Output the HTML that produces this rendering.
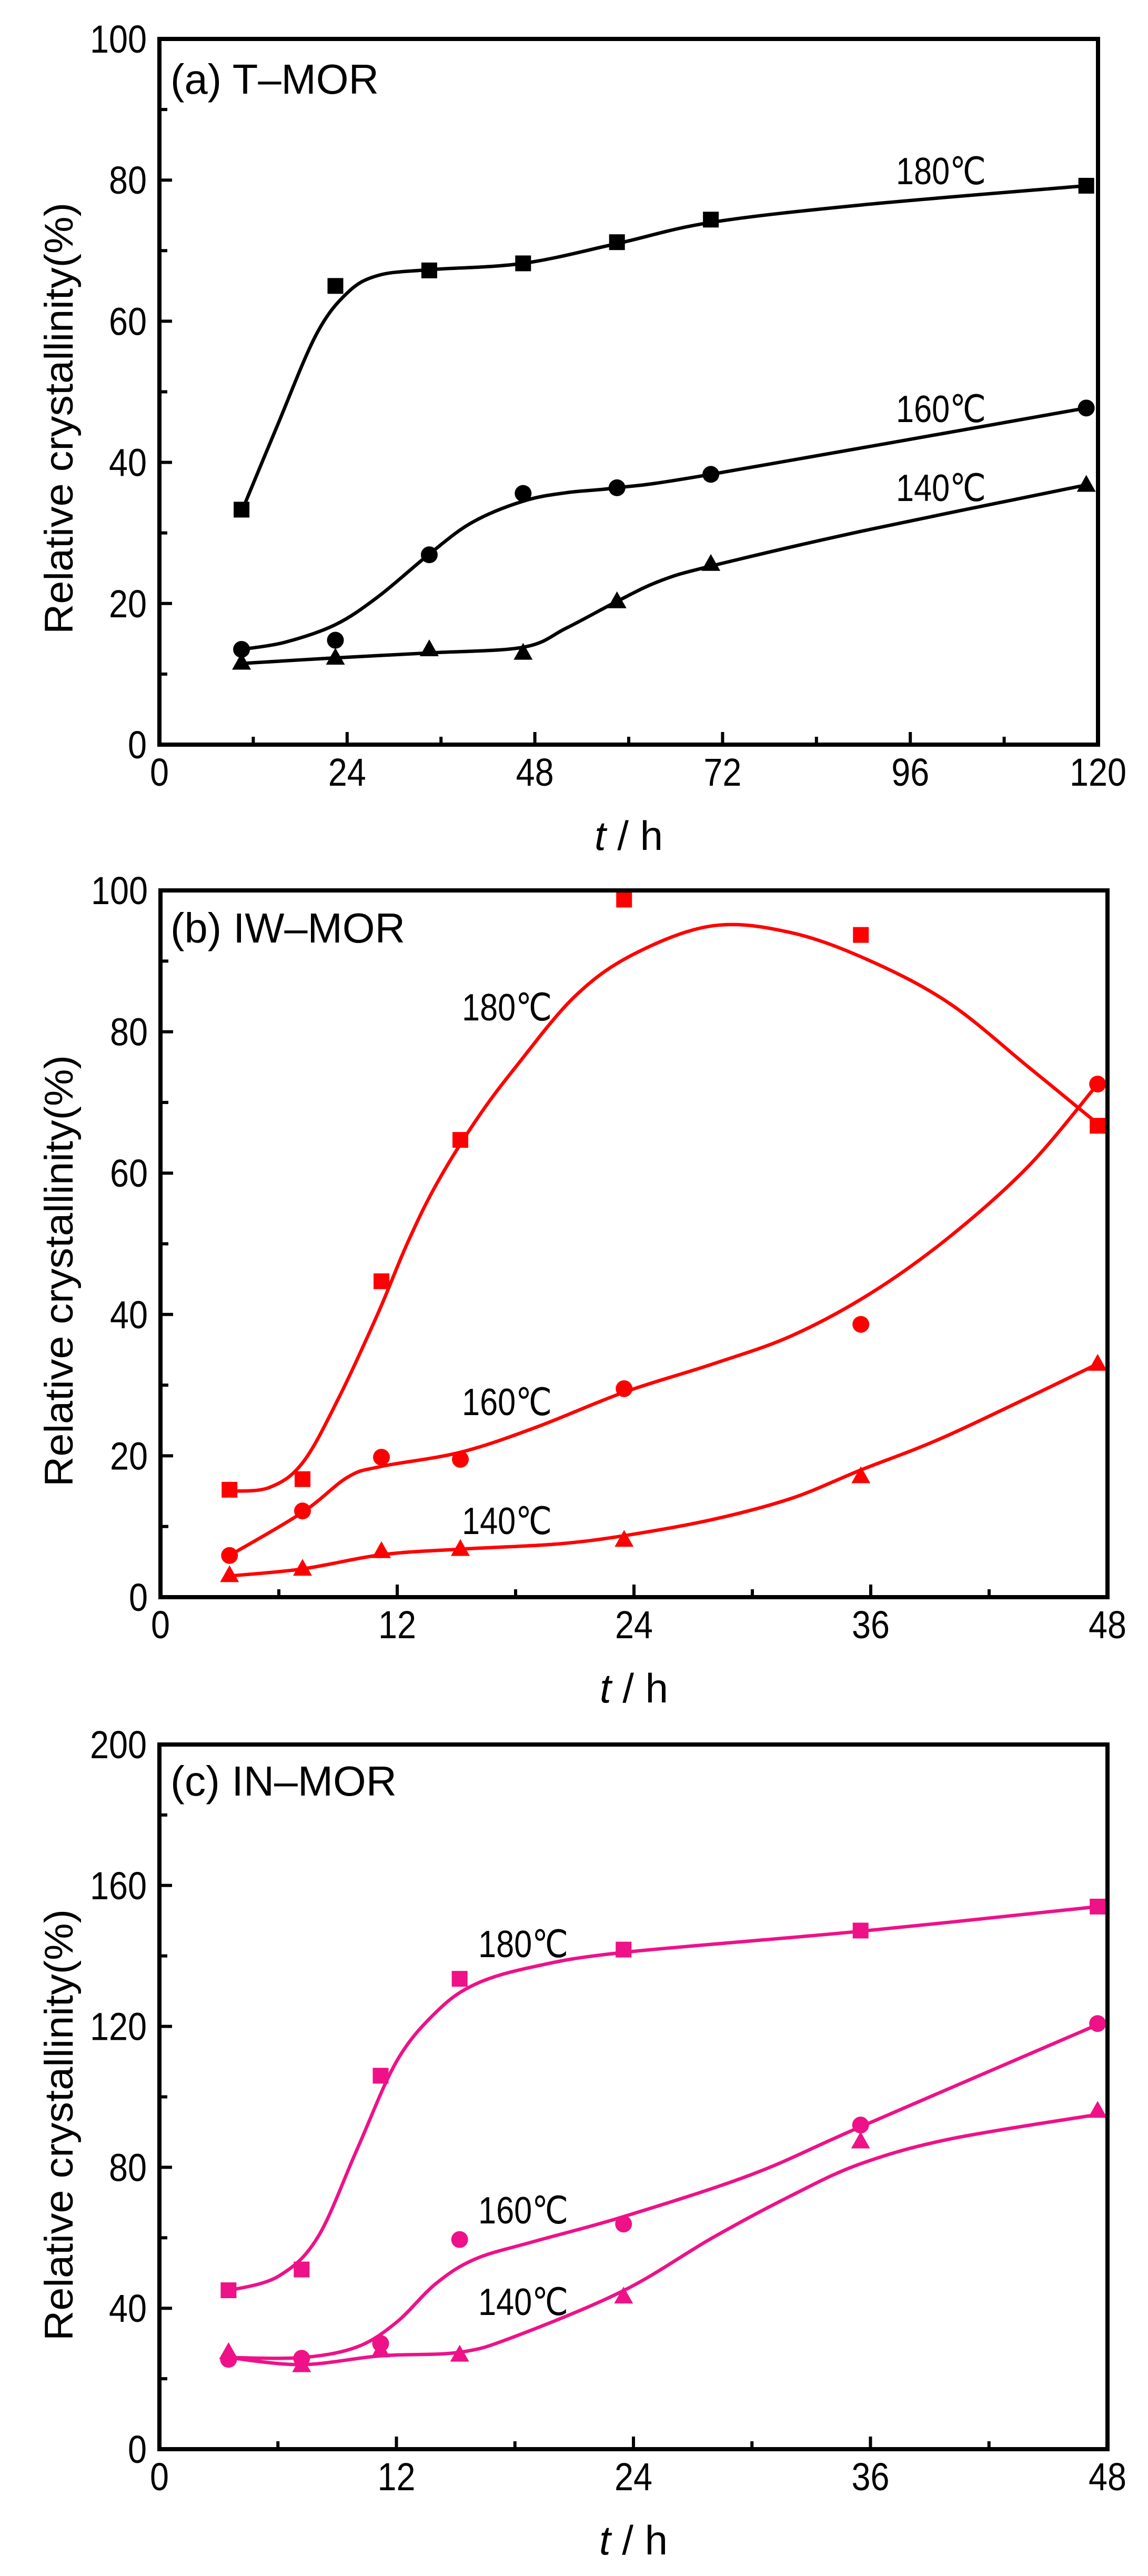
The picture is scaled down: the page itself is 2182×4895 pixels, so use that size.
<!DOCTYPE html>
<html><head><meta charset="utf-8"><style>
html,body{margin:0;padding:0;background:#fff}
svg{display:block}
text{font-family:"Liberation Sans",sans-serif}
</style></head><body>
<svg id="s" width="2182" height="4895" viewBox="0 0 2182 4895" xmlns="http://www.w3.org/2000/svg"></svg>
<script>
const S=document.getElementById('s');let out='';
function cr(pts){let d='M'+pts[0][0].toFixed(1)+','+pts[0][1].toFixed(1);
for(let i=0;i<pts.length-1;i++){const p0=pts[i-1]||pts[i],p1=pts[i],p2=pts[i+1],p3=pts[i+2]||p2;
const c1=[p1[0]+(p2[0]-p0[0])/6,p1[1]+(p2[1]-p0[1])/6],c2=[p2[0]-(p3[0]-p1[0])/6,p2[1]-(p3[1]-p1[1])/6];
d+=` C${c1[0].toFixed(1)},${c1[1].toFixed(1)} ${c2[0].toFixed(1)},${c2[1].toFixed(1)} ${p2[0].toFixed(1)},${p2[1].toFixed(1)}`;}return d;}
function panel(P){
const X=v=>P.x0+(P.x1-P.x0)*v/P.xmax, Y=v=>P.y0-(P.y0-P.y1)*v/P.ymax;
P.series.forEach(s=>{
 out+=`<path d="${cr(s.curve.map(p=>[X(p[0]),Y(p[1])]))}" fill="none" stroke="${P.col}" stroke-width="6.5"/>`;
 s.pts.forEach(p=>{const x=X(p[0]),y=Y(p[1]);
  if(s.m=='s')out+=`<rect x="${x-15}" y="${y-15}" width="30" height="30" fill="${P.col}"/>`;
  else if(s.m=='c')out+=`<circle cx="${x}" cy="${y}" r="16" fill="${P.col}"/>`;
  else out+=`<polygon points="${x},${y-19} ${x-18},${y+13} ${x+18},${y+13}" fill="${P.col}"/>`;});
 out+=`<text x="${s.lx}" y="${s.ly}" font-size="72" fill="#000" textLength="171" lengthAdjust="spacingAndGlyphs">${s.lab}</text>`;
});
out+=`<rect x="${P.x0}" y="${P.y1}" width="${P.x1-P.x0}" height="${P.y0-P.y1}" fill="none" stroke="#000" stroke-width="8"/>`;
for(let v=0;v<=P.xmax;v+=P.xs/2){const x=X(v);const maj=Math.abs(v/P.xs-Math.round(v/P.xs))<1e-6;
 out+=`<line x1="${x}" y1="${P.y0}" x2="${x}" y2="${P.y0-(maj?24:15)}" stroke="#000" stroke-width="6"/>`;
 if(maj){const n=String(v).length;out+=`<text x="${x-n*18}" y="${P.y0+78}" font-size="74" textLength="${n*36}" lengthAdjust="spacingAndGlyphs">${v}</text>`;}}
for(let v=0;v<=P.ymax;v+=P.ys/2){const y=Y(v);const maj=Math.abs(v/P.ys-Math.round(v/P.ys))<1e-6;
 out+=`<line x1="${P.x0}" y1="${y}" x2="${P.x0+(maj?24:15)}" y2="${y}" stroke="#000" stroke-width="6"/>`;
 if(maj){const n=String(v).length;out+=`<text x="${P.x0-24-n*36}" y="${y+26}" font-size="74" textLength="${n*36}" lengthAdjust="spacingAndGlyphs">${v}</text>`;}}
out+=`<text x="324" y="${P.ty}" font-size="80" textLength="${P.tl}" lengthAdjust="spacingAndGlyphs">${P.title}</text>`;
out+=`<text transform="translate(138,${P.yc}) rotate(-90)" font-size="76" text-anchor="middle" textLength="820" lengthAdjust="spacingAndGlyphs">Relative crystallinity(%)</text>`;
out+=`<text x="${(P.x0+P.x1)/2}" y="${P.y0+200}" font-size="78" text-anchor="middle"><tspan font-style="italic">t</tspan> / h</text>`;
}
panel({x0:303,x1:2087,y0:1415,y1:74,xmax:120,ymax:100,xs:24,ys:20,col:'#000',ty:178,tl:396,title:'(a) T–MOR',yc:795,
series:[
{m:'s',lab:'180℃',lx:1703,ly:350,pts:[[10.5,33.3],[22.5,65],[34.5,67.2],[46.5,68.2],[58.5,71.2],[70.5,74.4],[118.5,79.2]],
 curve:[[10.5,33],[15,45],[20,58],[24,64],[28,66.5],[34.5,67.3],[46.5,68.2],[58.5,71],[70.5,74],[90,76.5],[118.5,79.2]]},
{m:'c',lab:'160℃',lx:1703,ly:802,pts:[[10.5,13.5],[22.5,14.8],[34.5,26.9],[46.5,35.6],[58.5,36.4],[70.5,38.3],[118.5,47.7]],
 curve:[[10.5,13.5],[16,14.5],[22.5,17],[28,21],[34.5,27],[40,31.5],[46.5,34.5],[52,35.7],[58.5,36.4],[70.5,38.3],[118.5,47.7]]},
{m:'t',lab:'140℃',lx:1703,ly:952,pts:[[10.5,11.6],[22.5,12.3],[34.5,13.5],[46.5,13],[58.5,20.3],[70.5,25.6],[118.5,36.8]],
 curve:[[10.5,11.5],[22.5,12.3],[34.5,13],[46.5,13.8],[52,16.5],[58.5,20.3],[64,23.2],[70.5,25.3],[90,30.3],[118.5,36.8]]}
]});
const T=[3.5,7.2,11.2,15.2,23.5,35.5,47.5];
const z=a=>T.map((t,i)=>[t,a[i]]);
panel({x0:305,x1:2105,y0:3035,y1:1692,xmax:48,ymax:100,xs:12,ys:20,col:'#ff0000',ty:1791,tl:446,title:'(b) IW–MOR',yc:2415,
series:[
{m:'s',lab:'180℃',lx:878,ly:1939,pts:z([15.2,16.7,44.7,64.7,98.7,93.7,66.7]),
 curve:[[3.5,15],[5.5,15.5],[7.2,19],[9,28],[11,40],[12.5,50],[14,58.5],[16,67.5],[18,75],[21,85],[24,91],[28,95],[32,94],[36,90],[40,84],[44,75],[47.5,67]]},
{m:'c',lab:'160℃',lx:878,ly:2689,pts:z([5.9,12.2,19.8,19.5,29.5,38.6,72.6]),
 curve:[[3.5,5.9],[7.2,12],[9.5,17],[11.2,18.5],[15.2,20.5],[19,24],[23.5,29],[28,33],[32,37],[36,43],[40,51],[44,61],[47.5,72.6]]},
{m:'t',lab:'140℃',lx:878,ly:2915,pts:z([3.1,4,6.5,6.8,8.1,17.1,33]),
 curve:[[3.5,3],[7.2,4],[11.2,6],[15.2,6.8],[20,7.5],[23.5,8.7],[28,11],[32,14],[35.5,18],[40,23],[47.5,33]]}
]});
panel({x0:303,x1:2105,y0:4654,y1:3315,xmax:48,ymax:200,xs:12,ys:40,col:'#ee1188',ty:3412,tl:430,title:'(c) IN–MOR',yc:4038,
series:[
{m:'s',lab:'180℃',lx:909,ly:3719,pts:z([45.1,51,106,133.5,141.8,147.2,154]),
 curve:[[3.5,45],[6,49],[8,60],[10,85],[12,110],[14,124],[16,132],[19,137],[23.5,141],[35.5,147],[47.5,154]]},
{m:'c',lab:'160℃',lx:909,ly:4225,pts:z([25.5,25.8,30,59.5,63.9,92,120.8]),
 curve:[[3.5,26],[7.2,26],[10,29],[12,36],[14,47],[16,54],[19,59],[23.5,66],[30,78],[35.5,91.5],[47.5,120.5]]},
{m:'t',lab:'140℃',lx:909,ly:4399,pts:z([27.5,23.8,28,26.8,43.3,87.3,96]),
 curve:[[3.5,26],[7.2,24],[11.2,26.5],[15.2,27.5],[18,32],[23.5,45],[28,60],[32,72],[35.5,81],[40,88],[47.5,95]]}
]});
S.innerHTML=out;
</script>
</body></html>
